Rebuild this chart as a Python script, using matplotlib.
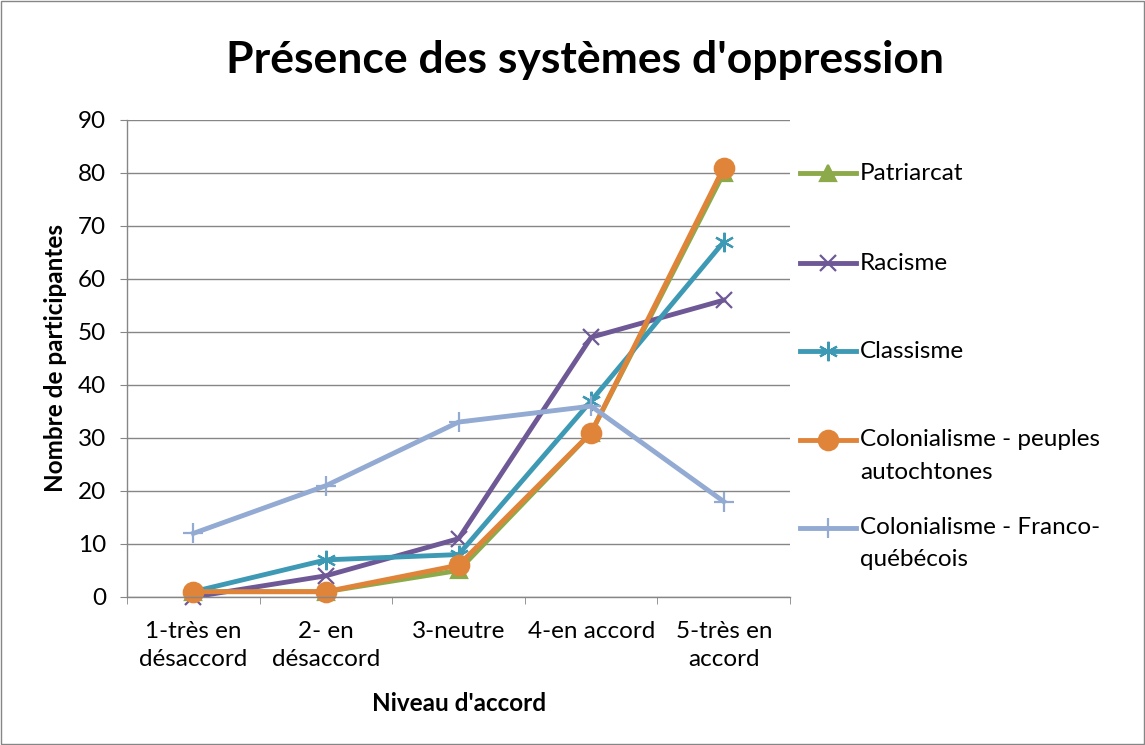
import matplotlib
matplotlib.use("Agg")
import matplotlib.pyplot as plt
from matplotlib.lines import Line2D
from matplotlib.patches import Rectangle

plt.rcParams['font.family'] = ['Lato', 'DejaVu Sans']

categories = ["1-très en\ndésaccord", "2- en\ndésaccord", "3-neutre", "4-en accord", "5-très en\naccord"]
series_names = ["Patriarcat", "Racisme", "Classisme",
                "Colonialisme - peuples\nautochtones", "Colonialisme - Franco-\nquébécois"]
patriarcat = [1, 1, 5, 31, 80]
racisme = [0, 4, 11, 49, 56]
classisme = [1, 7, 8, 37, 67]
colon_autochtones = [1, 1, 6, 31, 81]
colon_franco = [12, 21, 33, 36, 18]
values = [patriarcat, racisme, classisme, colon_autochtones, colon_franco]

colors = ["#8CAA4A", "#6E5996", "#3E9AB4", "#E0843A", "#93AAD3"]
markers = ["^", "x", (6, 2, 0), "o", "+"]
msizes = [11, 11, 14, 14, 15]

FS = 17.5
fig = plt.figure(figsize=(11.45, 7.45), dpi=100)
fig.patches.append(Rectangle((0.001, 0.001), 0.998, 0.997, transform=fig.transFigure,
                             fill=False, edgecolor="#868686", linewidth=1))
ax = fig.add_axes([0.111, 0.1987, 0.579, 0.6403])

x = list(range(len(categories)))
for vals, c, m, ms in zip(values, colors, markers, msizes):
    ax.plot(x, vals, color=c, linewidth=3.5, marker=m, markersize=ms,
            markeredgewidth=1.6, markeredgecolor=c, markerfacecolor=c, clip_on=False)

ax.set_xlim(-0.5, len(categories) - 0.5)
ax.set_ylim(0, 90)
ax.set_yticks(range(0, 91, 10))
ax.set_xticks(x)
ax.set_xticklabels(categories, fontsize=FS, linespacing=1.45)
ax.set_xticks([i - 0.5 for i in range(len(categories) + 1)], minor=True)
ax.tick_params(axis='x', which='major', length=0, pad=17)
ax.tick_params(axis='x', which='minor', length=5, color="#868686", direction='out')
ax.tick_params(axis='y', length=5, color="#868686", direction='out', labelsize=FS, pad=10)
ax.yaxis.grid(True, color="#868686", linewidth=1)
ax.set_axisbelow(True)
for s in ["top", "right"]:
    ax.spines[s].set_visible(False)
for s in ["left", "bottom"]:
    ax.spines[s].set_color("#868686")
    ax.spines[s].set_linewidth(1)

ax.set_ylabel("Nombre de participantes", fontsize=FS, fontweight='bold', labelpad=8)
ax.set_xlabel("Niveau d'accord", fontsize=FS, fontweight='bold', labelpad=16)
fig.text(0.511, 0.919, "Présence des systèmes d'oppression", ha='center', va='center',
         fontsize=32, fontweight='bold')

# legend drawn manually
leg_y = [173, 263, 351, 440, 528]
for name, c, m, ms, yp in zip(series_names, colors, markers, msizes, leg_y):
    yf = 1 - yp / 745
    fig.add_artist(Line2D([800 / 1145, 856 / 1145], [yf, yf], transform=fig.transFigure,
                          color=c, linewidth=3.5))
    fig.add_artist(Line2D([828 / 1145], [yf], transform=fig.transFigure, color=c,
                          marker=m, markersize=ms, markeredgewidth=1.6,
                          markeredgecolor=c, markerfacecolor=c))
    for k, ln in enumerate(name.split("\n")):
        fig.text(860 / 1145, 1 - (yp + k * 32) / 745, ln, ha='left', va='center', fontsize=FS)

fig.savefig("out.png", dpi=100)
